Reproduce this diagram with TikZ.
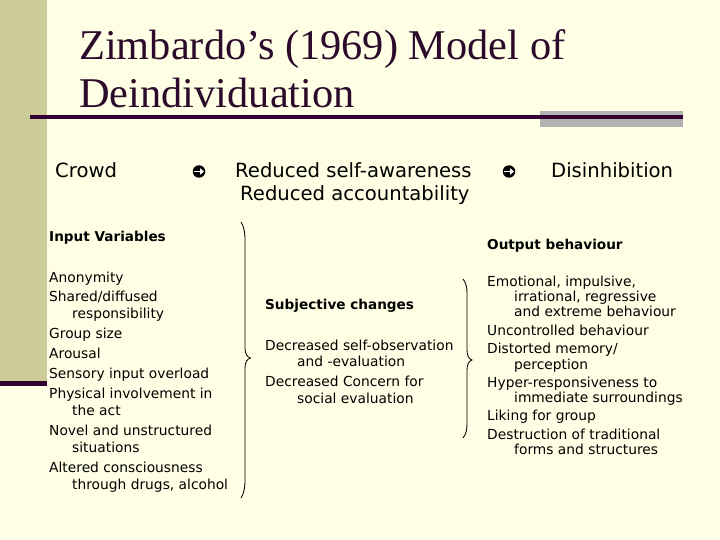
\documentclass[tikz,border=0pt]{standalone}
\usepackage{fontspec}
\usetikzlibrary{arrows.meta}
\setmainfont{DejaVu Sans}
\newfontfamily\titlefont{Liberation Serif}
\definecolor{bgc}{HTML}{FFFFE5}
\definecolor{barc}{HTML}{CCCC99}
\definecolor{darkc}{HTML}{330033}
\definecolor{grayc}{HTML}{B2B2B2}
\definecolor{titlec}{HTML}{2B0A2B}
\begin{document}
\begin{tikzpicture}[x=1pt,y=-1pt,
  txt/.style={anchor=base west,inner sep=0pt,font=\fontsize{13.8}{16}\selectfont},
  btxt/.style={txt,font=\fontsize{13.6}{16}\selectfont\bfseries},
  big/.style={anchor=base west,inner sep=0pt,font=\fontsize{19.6}{23}\selectfont},
  ttl/.style={anchor=base west,inner sep=0pt,text=titlec,font=\fontsize{42.4}{48}\titlefont},
  bullarrow/.style={circle,fill=black,minimum size=12.5pt,inner sep=0pt},
  whitearr/.style={white,line width=1.7pt,-{Triangle[length=4pt,width=6.5pt]}},
  bracec/.style={line width=0.85pt,black}]
\useasboundingbox (0,0) rectangle (720,540);
\fill[bgc] (0,0) rectangle (720,540);
\fill[barc] (0,0) rectangle (47,381);
\fill[darkc] (0,381) rectangle (47,386);
\fill[grayc] (540,111) rectangle (683,127);
\draw[darkc,line width=3.5pt] (30,117) -- (683,117);
% title
\node[ttl] (t1) at (79,60) {Zimbardo’s (1969) Model of};
\node[ttl] (t2) at (79,108) {Deindividuation};
% top row
\node[big] (crowd) at (55,178) {Crowd};
\node[bullarrow] (a1) at (199,171.5) {};
\draw[whitearr] ([xshift=-4.8pt]a1.center) -- ([xshift=5pt]a1.center);
\node[big] (rsa) at (235,178) {Reduced self-awareness};
\node[big] (ra) at (240,201) {Reduced accountability};
\node[bullarrow] (a2) at (509,171.5) {};
\draw[whitearr] ([xshift=-4.8pt]a2.center) -- ([xshift=5pt]a2.center);
\node[big] (dis) at (551,178) {Disinhibition};
% headers
\node[btxt] (inv) at (49,241) {Input Variables};
\node[btxt] (outb) at (487,249) {Output behaviour};
\node[btxt] (subj) at (265,309) {Subjective changes};
% left list
\node[txt] (l1) at (49,282) {Anonymity};
\node[txt] (l2) at (49,301) {Shared/diffused};
\node[txt] (l3) at (72,318) {responsibility};
\node[txt] (l4) at (49,338) {Group size};
\node[txt] (l5) at (49,358) {Arousal};
\node[txt] (l6) at (49,378) {Sensory input overload};
\node[txt] (l7) at (49,398) {Physical involvement in};
\node[txt] (l8) at (72,415) {the act};
\node[txt] (l9) at (49,435) {Novel and unstructured};
\node[txt] (l10) at (72,452) {situations};
\node[txt] (l11) at (49,472) {Altered consciousness};
\node[txt] (l12) at (72,489) {through drugs, alcohol};
% middle
\node[txt] (m1) at (265,350) {Decreased self-observation};
\node[txt] (m2) at (297,366.5) {and -evaluation};
\node[txt] (m3) at (265,386.5) {Decreased Concern for};
\node[txt] (m4) at (297,403) {social evaluation};
% right list
\node[txt] (r1) at (487,286.5) {Emotional, impulsive,};
\node[txt] (r2) at (514,301.5) {irrational, regressive};
\node[txt] (r3) at (514,316.5) {and extreme behaviour};
\node[txt] (r4) at (487,335) {Uncontrolled behaviour};
\node[txt] (r5) at (487,353) {Distorted memory/};
\node[txt] (r6) at (514,369) {perception};
\node[txt] (r7) at (487,387) {Hyper-responsiveness to};
\node[txt] (r8) at (514,402.5) {immediate surroundings};
\node[txt] (r9) at (487,420.5) {Liking for group};
\node[txt] (r10) at (487,439) {Destruction of traditional};
\node[txt] (r11) at (514,454) {forms and structures};
% braces
\draw[bracec] (241,222) .. controls (244,227) and (245,232) .. (245,240) -- (245,348)
  .. controls (245,354) and (247,357) .. (250.5,358) .. controls (247,359) and (245,362) .. (245,368)
  -- (245,480) .. controls (245,488) and (244,493) .. (241,498);
\draw[bracec] (463,279) .. controls (466,283) and (467,287) .. (467,293) -- (467,350)
  .. controls (467,356) and (469,359) .. (472,360) .. controls (469,361) and (467,364) .. (467,370)
  -- (467,424) .. controls (467,430) and (466,434) .. (463,438);
\end{tikzpicture}
\end{document}
